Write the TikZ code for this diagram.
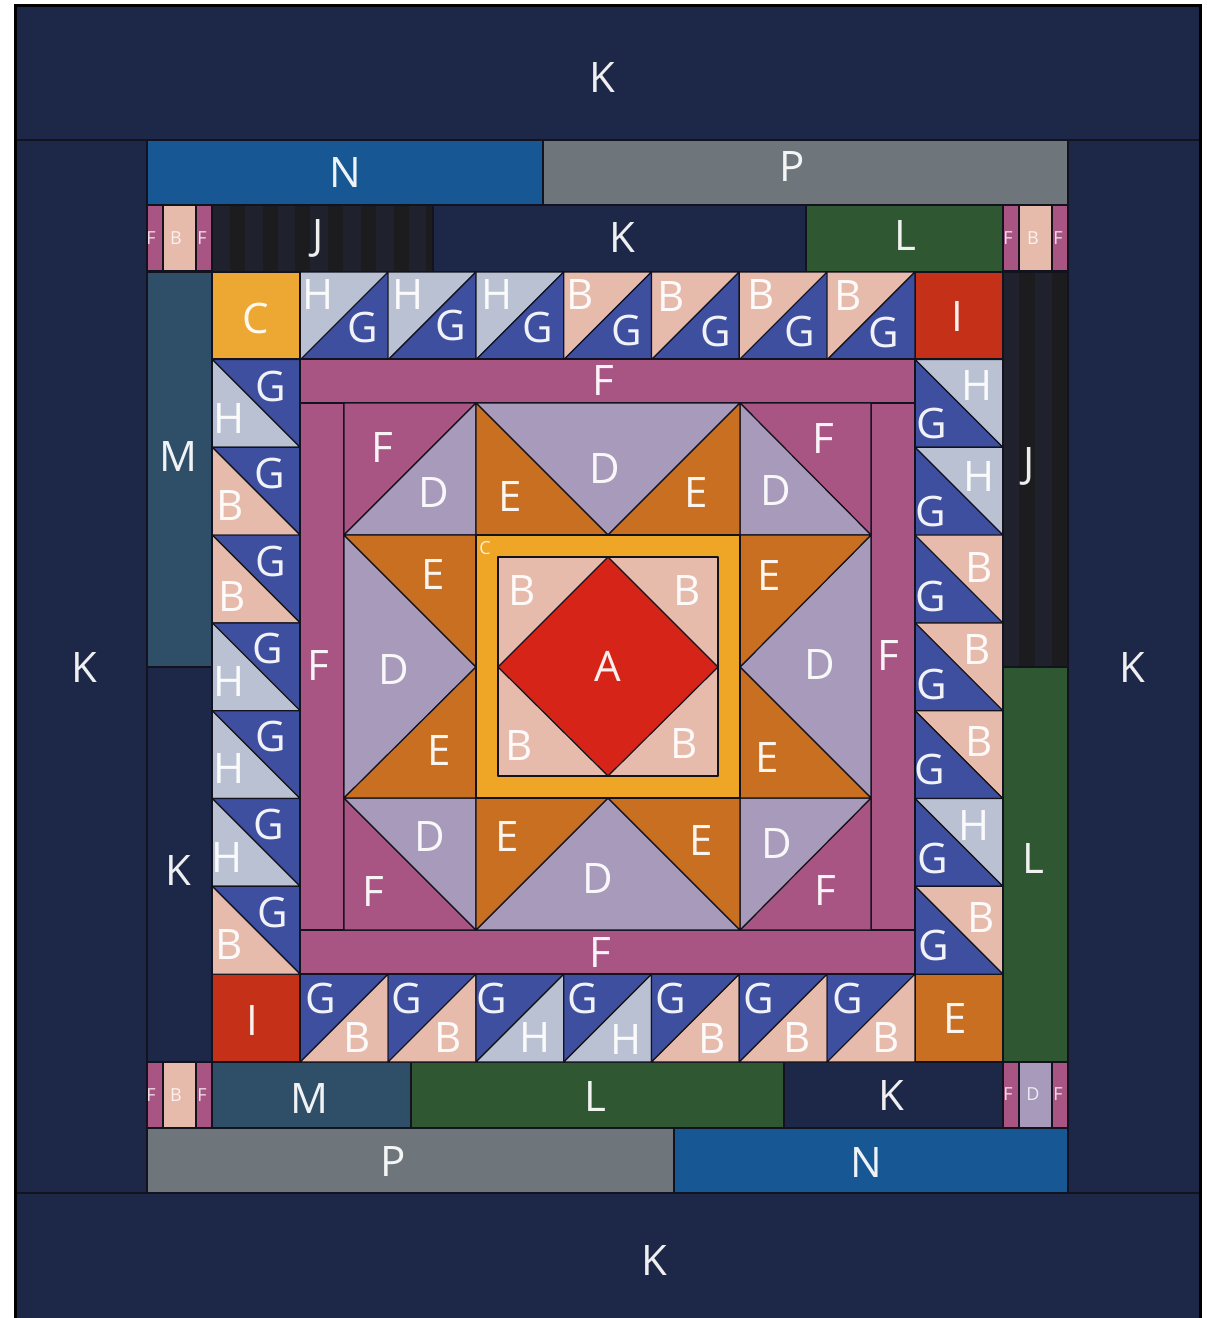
\documentclass[tikz,border=0pt]{standalone}
\usepackage{fontspec}
\setmainfont{Open Sans}
\definecolor{cK}{HTML}{1D2748}
\definecolor{cN}{HTML}{175793}
\definecolor{cP}{HTML}{6E767C}
\definecolor{cJa}{HTML}{1F222D}
\definecolor{cJb}{HTML}{1C1C1E}
\definecolor{cL}{HTML}{2F5731}
\definecolor{cM}{HTML}{2F4F69}
\definecolor{cC}{HTML}{EDA833}
\definecolor{cR}{HTML}{EFA525}
\definecolor{cI}{HTML}{C43118}
\definecolor{cA}{HTML}{D62418}
\definecolor{cB}{HTML}{E6BBAC}
\definecolor{cD}{HTML}{A89ABA}
\definecolor{cE}{HTML}{C86F22}
\definecolor{cF}{HTML}{A85584}
\definecolor{cG}{HTML}{3F4F9F}
\definecolor{cH}{HTML}{B9C1D2}
\definecolor{cLine}{HTML}{12131E}
\tikzset{
  x=1pt,y=-1pt,
  patch/.style={draw=cLine,line width=1.2pt,line join=round},
  lbl/.style={text=white,text opacity=.93,inner sep=0pt,font=\fontsize{42}{42}\selectfont},
  tiny/.style={text=white,text opacity=.8,inner sep=0pt,font=\fontsize{18}{18}\selectfont},
}
\newcount\labn
\newcommand{\lab}[4][lbl]{\global\advance\labn by 1 \node[#1] (n\the\labn) at (#2,#3) {#4};}
\newcommand{\rc}[5]{\fill[#5,patch] (#1,#2) rectangle (#3,#4);}
\newcommand{\tri}[7]{\fill[#7,patch] (#1,#2) -- (#3,#4) -- (#5,#6) -- cycle;}
% cell with rising diagonal: top-left colour, bottom-right colour
\newcommand{\hstr}[4]{\fill[#3,patch] (#1,#2) -- ++(87.8,0) -- ++(-87.8,87.8) -- cycle;
  \fill[#4,patch] (#1+87.8,#2) -- ++(0,87.8) -- ++(-87.8,0) -- cycle;}
% cell with falling diagonal: top-right colour, bottom-left colour
\newcommand{\hstf}[4]{\fill[#3,patch] (#1,#2) -- ++(87.8,0) -- ++(0,87.8) -- cycle;
  \fill[#4,patch] (#1,#2) -- ++(87.8,87.8) -- ++(-87.8,0) -- cycle;}
\begin{document}
\begin{tikzpicture}
\useasboundingbox (0,0) rectangle (1207,1318);
\fill[white] (0,0) rectangle (1207,1318);
\fill[black] (14,4) rectangle (1202,1318);
\fill[cK] (17,7) rectangle (1199,1318);
\draw[cLine,line width=1.2pt] (17,140) -- (1199,140);
\draw[cLine,line width=1.2pt] (17,1193) -- (1199,1193);
\rc{147}{140}{1068}{1193}{cK}
% outer strips
\rc{147}{140}{543}{205}{cN}
\rc{543}{140}{1068}{205}{cP}
\rc{147}{1128}{674}{1193}{cP}
\rc{674}{1128}{1068}{1193}{cN}
% second round
\fill[cJa] (212,205) rectangle (433,272);
\foreach \i in {0,...,6}{\fill[cJb] ({230+32.7*\i},205) rectangle ({min(245+32.7*\i,433)},272);}
\draw[patch] (212,205) rectangle (433,272);
\rc{433}{205}{806}{272}{cK}
\rc{806}{205}{1003}{272}{cL}
\fill[cJa] (1003,272) rectangle (1068,667);
\fill[cJb] (1019,272) rectangle (1035,667);
\fill[cJb] (1052,272) rectangle (1068,667);
\draw[patch] (1003,272) rectangle (1068,667);
\rc{1003}{667}{1068}{1062}{cL}
\rc{147}{272}{212}{667}{cM}
\rc{147}{667}{212}{1062}{cK}
\rc{212}{1062}{411}{1128}{cM}
\rc{411}{1062}{784}{1128}{cL}
\rc{784}{1062}{1003}{1128}{cK}
% small corner blocks
\foreach \x/\y/\c in {147/205/cB,1003/205/cB,147/1062/cB,1003/1062/cD}{
  \fill[cF,patch] (\x,\y) rectangle ++(16,66);
  \fill[\c,patch] (\x+16,\y) rectangle ++(33,66);
  \fill[cF,patch] (\x+49,\y) rectangle ++(16,66);
}
% ring corners
\rc{212}{272}{300}{359}{cC}
\rc{915}{272}{1003}{359}{cI}
\rc{212}{974}{300}{1062}{cI}
\rc{915}{974}{1003}{1062}{cE}
% half-square triangle rows
\foreach \i/\c in {0/cH,1/cH,2/cH,3/cB,4/cB,5/cB,6/cB}{\hstr{300.3+87.8*\i}{272}{\c}{cG}}
\foreach \i/\c in {0/cB,1/cB,2/cH,3/cH,4/cB,5/cB,6/cB}{\hstr{300.3+87.8*\i}{974.2}{cG}{\c}}
\foreach \i/\c in {0/cH,1/cB,2/cB,3/cH,4/cH,5/cH,6/cB}{\hstf{212.3}{359.5+87.8*\i}{cG}{\c}}
\foreach \i/\c in {0/cH,1/cH,2/cB,3/cB,4/cB,5/cH,6/cB}{\hstf{915}{359.5+87.8*\i}{\c}{cG}}
% sashing
\rc{300}{359}{915}{403}{cF}
\rc{300}{930}{915}{974}{cF}
\rc{300}{403}{344}{930}{cF}
\rc{871}{403}{915}{930}{cF}
% star block corners
\tri{344}{403}{476}{403}{344}{535}{cF}
\tri{476}{403}{476}{535}{344}{535}{cD}
\tri{740}{403}{871}{403}{871}{535}{cF}
\tri{740}{403}{740}{535}{871}{535}{cD}
\tri{344}{798}{344}{930}{476}{930}{cF}
\tri{344}{798}{476}{798}{476}{930}{cD}
\tri{871}{798}{871}{930}{740}{930}{cF}
\tri{871}{798}{740}{798}{740}{930}{cD}
% flying geese
\tri{476}{403}{740}{403}{608}{535}{cD}
\tri{476}{403}{608}{535}{476}{535}{cE}
\tri{740}{403}{740}{535}{608}{535}{cE}
\tri{476}{930}{740}{930}{608}{798}{cD}
\tri{476}{930}{608}{798}{476}{798}{cE}
\tri{740}{930}{740}{798}{608}{798}{cE}
\tri{344}{535}{344}{798}{476}{667}{cD}
\tri{344}{535}{476}{535}{476}{667}{cE}
\tri{344}{798}{476}{798}{476}{667}{cE}
\tri{871}{535}{871}{798}{740}{667}{cD}
\tri{871}{535}{740}{535}{740}{667}{cE}
\tri{871}{798}{740}{798}{740}{667}{cE}
% centre
\rc{476}{535}{740}{798}{cR}
\rc{498}{557}{718}{776}{cB}
\fill[cA,patch] (608,557) -- (718,667) -- (608,776) -- (498,667) -- cycle;
% labels
\foreach \x/\y/\t in {602/78/K,345/173/N,792/167/P,318/238/J,622/238/K,905/236/L,
 256/318/C,318/295/H,363/327/G,408/295/H,451/325/G,497/295/H,538/327/G,580/295/B,627/330/G,671/297/B,716/331/G,761/295/B,800/331/G,848/296/B,884/332/G,957/317/I,
 603/381/F,178/457/M,
 271/386/G,229/419/H,270/473/G,230/506/B,271/561/G,232/596/B,268/648/G,229/681/H,271/736/G,229/768/H,269/824/G,227/857/H,273/912/G,229/944/B,
 977/386/H,932/423/G,979/477/H,931/511/G,979/567/B,931/596/G,977/649/B,932/684/G,979/741/B,930/769/G,974/825/H,933/858/G,981/917/B,934/945/G,
 1029/466/J,1033/858/L,84/667/K,1132/667/K,178/870/K,
 318/665/F,888/655/F,382/448/F,434/492/D,510/496/E,605/468/D,696/492/E,776/490/D,823/439/F,
 433/574/E,522/590/B,687/590/B,769/575/E,394/669/D,608/666/A,820/664/D,439/750/E,519/745/B,684/743/B,767/757/E,
 430/836/D,507/836/E,598/878/D,701/840/E,777/843/D,373/891/F,825/890/F,600/952/F,
 252/1020/I,321/998/G,357/1037/B,407/998/G,448/1037/B,492/998/G,535/1037/H,583/998/G,626/1039/H,671/998/G,712/1038/B,759/998/G,797/1037/B,848/998/G,886/1037/B,955/1018/E,
 309/1098/M,595/1096/L,891/1095/K,393/1161/P,866/1162/N,654/1260/K}{\lab{\x}{\y}{\t}}
\foreach \x/\y/\t in {151/238/F,176/238/B,202/238/F,1008/238/F,1033/238/B,1058/238/F,
 151/1095/F,176/1095/B,202/1095/F,1008/1094/F,1033/1094/D,1058/1094/F,485/548/C}{\lab[tiny]{\x}{\y}{\t}}
\end{tikzpicture}
\end{document}
